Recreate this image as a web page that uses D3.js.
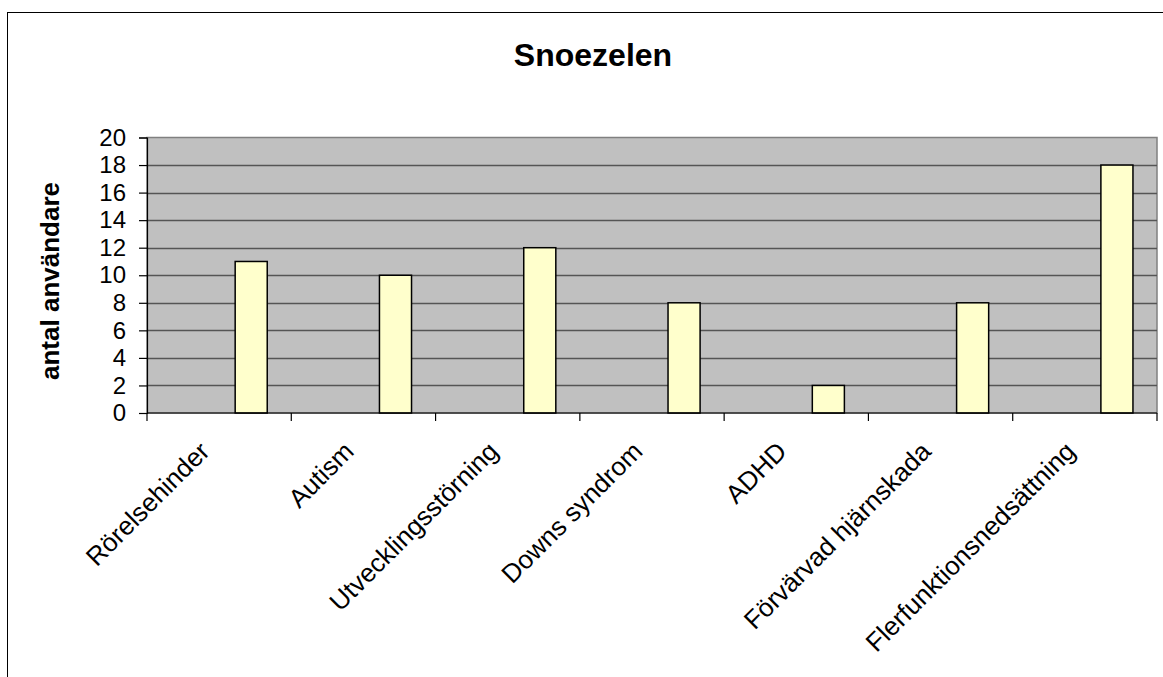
<!DOCTYPE html>
<html>
<head>
<meta charset="utf-8">
<script src="https://cdn.jsdelivr.net/npm/d3@7/dist/d3.min.js"></script>
<style>
  html, body { margin: 0; padding: 0; background: #fff; }
  svg { display: block; font-family: Arial, "Liberation Sans", sans-serif; }
</style>
</head>
<body>
<svg id="chart" width="1163" height="677"></svg>
<script>
// Number of users per diagnosis group
const categories = ["Rörelsehinder", "Autism", "Utvecklingsstörning", "Downs syndrom",
                    "ADHD", "Förvärvad hjärnskada", "Flerfunktionsnedsättning"];
const values = [11, 10, 12, 8, 2, 8, 18];
// Clustered layout: three series slots per category, only the last one holds data
const seriesSlots = ["s1", "s2", "s3"];
const drawnSeries = "s3";
const yTicks = [0, 2, 4, 6, 8, 10, 12, 14, 16, 18, 20];
const title = "Snoezelen";
const yLabel = "antal användare";

const svg = d3.select("#chart");
const plot = { left: 147, right: 1157, top: 137.5, bottom: 413 };

// chart area frame (runs off the right and bottom edges)
svg.append("rect")
  .attr("x", 7.5).attr("y", 12.5)
  .attr("width", 1300).attr("height", 800)
  .attr("fill", "#fff").attr("stroke", "#000").attr("stroke-width", 1);

const x = d3.scaleBand().domain(categories).range([plot.left, plot.right]).padding(0);
const xSlot = d3.scaleBand().domain(seriesSlots).range([0, x.bandwidth()])
  .paddingInner(0).paddingOuter(0.75);
const y = d3.scaleLinear().domain([0, 20]).range([plot.bottom, plot.top]);

// plot background
svg.append("rect")
  .attr("x", plot.left).attr("y", plot.top)
  .attr("width", plot.right - plot.left).attr("height", plot.bottom - plot.top)
  .attr("fill", "#c0c0c0").attr("stroke", "#808080").attr("stroke-width", 1.5);

// horizontal gridlines
svg.append("g").selectAll("line")
  .data(yTicks.filter(t => t > 0 && t < 20))
  .join("line")
  .attr("x1", plot.left).attr("x2", plot.right)
  .attr("y1", d => Math.round(y(d)) + 0.5).attr("y2", d => Math.round(y(d)) + 0.5)
  .attr("stroke", "#555").attr("stroke-width", 1.4);

// bars
svg.append("g").selectAll("rect")
  .data(values)
  .join("rect")
  .attr("x", (d, i) => x(categories[i]) + xSlot(drawnSeries))
  .attr("y", d => y(d))
  .attr("width", xSlot.bandwidth())
  .attr("height", d => y(0) - y(d))
  .attr("fill", "#ffffcc").attr("stroke", "#000").attr("stroke-width", 1.5);

// y axis
const yAxis = svg.append("g")
  .attr("transform", `translate(${plot.left},0)`)
  .call(d3.axisLeft(y).tickValues(yTicks).tickSize(8).tickPadding(13).tickFormat(d3.format("d")));
yAxis.select(".domain").attr("stroke", "#000").attr("stroke-width", 1.2);
yAxis.selectAll(".tick line").attr("stroke", "#000").attr("stroke-width", 1.2);
yAxis.selectAll(".tick text")
  .attr("font-size", 24).attr("fill", "#000")
  .attr("font-family", "Arial, 'Liberation Sans', sans-serif");

// x axis: ticks at category boundaries
const xAxisG = svg.append("g");
xAxisG.append("line")
  .attr("x1", plot.left).attr("x2", plot.right)
  .attr("y1", plot.bottom).attr("y2", plot.bottom)
  .attr("stroke", "#000").attr("stroke-width", 1.2);
const boundaries = categories.map(c => x(c)).concat([plot.right]);
xAxisG.selectAll("line.tick")
  .data(boundaries)
  .join("line")
  .attr("class", "tick")
  .attr("x1", d => d).attr("x2", d => d)
  .attr("y1", plot.bottom).attr("y2", plot.bottom + 8)
  .attr("stroke", "#000").attr("stroke-width", 1.2);

xAxisG.selectAll("text")
  .data(categories)
  .join("text")
  .attr("transform", d => `translate(${x(d) + x.bandwidth() / 2 - 8},${plot.bottom + 40}) rotate(-45)`)
  .attr("text-anchor", "end")
  .attr("font-size", 26)
  .attr("fill", "#000")
  .text(d => d);

// title
svg.append("text")
  .attr("x", 593).attr("y", 66)
  .attr("text-anchor", "middle")
  .attr("font-size", 32).attr("font-weight", "bold")
  .text(title);

// y axis title
svg.append("text")
  .attr("transform", `translate(59,281) rotate(-90)`)
  .attr("text-anchor", "middle")
  .attr("font-size", 26).attr("font-weight", "bold")
  .text(yLabel);
</script>
</body>
</html>
